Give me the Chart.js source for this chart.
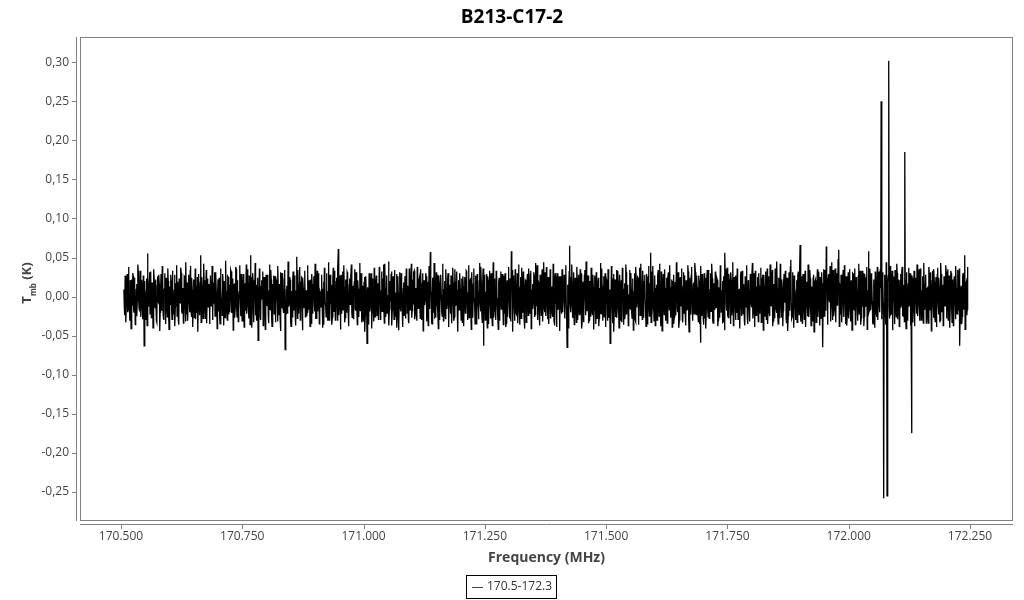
<!DOCTYPE html>
<html>
<head>
<meta charset="utf-8">
<title>B213-C17-2</title>
<script src="https://cdn.jsdelivr.net/npm/chart.js@4/dist/chart.umd.min.js"></script>
<style>
  html, body { margin: 0; padding: 0; background: #fff; }
  #spectrum { display: block; }
</style>
</head>
<body>
<canvas id="spectrum" width="1024" height="600"></canvas>
<script>
const chartTitle = "B213-C17-2";
const seriesLabel = "170.5-172.3";
const xTitle = "Frequency (MHz)";

// first channel and channel width, MHz
const freqStart = 170.506;
const chanWidth = 0.00087;

// T_mb per channel, in mK (2000 channels, 50 per row)
const tmb = [
  9,-14,-24,27,18,-33,-6,12,29,-20,-17,38,3,-9,-31,21,14,-41,22,6,-11,30,26,-17,-20,24,5,-36,-28,10,16,-25,-2,41,33,-5,-15,-19,8,33,-26,-12,21,16,-7,-29,27,3,-63,20,
  6,-21,-30,8,23,-37,55,26,17,-13,4,31,-22,-2,32,-27,-5,18,11,-40,-27,35,20,-10,-14,22,2,-31,-33,14,26,-6,-8,28,15,-44,-20,11,29,-18,-1,39,19,-24,-30,7,10,30,-16,-35,
  24,13,-5,-26,36,20,-23,-42,13,5,-10,28,21,-15,-29,33,7,-22,-18,9,28,-38,-12,17,1,40,-25,-11,19,-30,-36,23,15,-8,-4,37,30,-19,-21,2,11,-34,-14,26,25,-13,-32,44,5,-23,
  18,-31,-9,15,28,-4,-20,33,39,-18,-26,24,8,-39,-15,10,22,-27,-3,36,-29,12,14,-21,25,-45,-17,29,4,-7,-24,18,53,-33,-7,25,12,-16,-28,42,21,-1,-11,-28,1,34,-34,-10,23,20,
  -13,7,16,-35,-21,27,27,-12,-8,39,-30,-22,18,-9,9,31,-25,-17,31,3,-14,-41,5,22,-19,15,24,-28,-35,36,12,-6,-2,-24,29,19,-16,-37,20,11,-27,46,7,-14,-10,-30,26,25,-23,-3,
  15,-20,-4,34,32,-8,-21,23,10,-43,-29,16,17,-27,-12,38,35,-12,-26,21,6,-32,-17,6,23,40,-8,-25,29,13,-31,-18,13,29,-22,-39,2,17,-18,-5,41,-22,-11,35,20,-11,-28,27,9,-36,
  53,11,25,-40,-15,30,21,-20,-33,8,5,43,-24,-16,15,-31,-9,24,-56,-9,-19,36,11,-27,-30,14,21,-3,-2,32,-37,-23,25,19,-13,-42,18,28,-7,-12,28,6,-23,-34,8,41,-16,-17,34,22,
  -27,-38,12,16,-3,27,-22,-10,26,-33,-11,21,19,-5,-32,39,5,-24,16,12,-26,-44,31,18,-15,30,9,-15,-21,-6,23,34,-68,-29,-29,9,14,-21,-18,45,30,-13,-8,25,21,-32,-38,7,3,-26,
  22,32,-12,-18,27,5,-25,-37,7,24,51,-28,34,15,-22,-7,12,38,-30,-20,18,26,-4,-43,24,11,-14,-14,31,33,-26,-3,8,-25,-20,40,29,-16,-10,21,-1,-38,22,8,-34,29,16,-22,-8,12,
  26,-9,-19,42,13,-28,-28,14,33,-19,-6,30,19,-35,-24,6,4,-13,28,25,-15,-40,10,19,-36,37,20,-8,-12,-26,30,15,-22,-31,6,44,-30,-17,23,28,-9,-5,15,-36,-26,22,37,-11,-19,33,
  11,-30,-2,19,24,-11,-31,36,61,-24,-13,9,27,-42,-7,28,-22,13,32,-17,-17,40,12,-33,-27,4,22,-20,-5,31,29,-12,-34,-38,15,23,-10,-6,26,41,-21,-27,2,14,-29,-2,19,35,-15,-18,
  31,24,-8,-36,21,10,-26,-22,5,43,-18,-15,30,28,-33,-8,14,-31,-5,19,25,-45,-23,26,9,-4,-60,12,-16,-35,-28,30,18,-19,-11,8,30,-41,-20,23,7,-13,-32,37,22,-26,-3,16,27,-7,
  -24,17,15,-29,-12,38,28,-6,-30,-23,8,32,-19,-14,23,41,-9,-34,42,11,-26,-20,12,27,-21,-9,2,45,-37,-16,20,-3,-6,29,32,-37,-16,21,26,-11,-29,34,11,-25,-1,5,29,-40,-22,26,
  5,-43,-15,22,31,-12,-19,30,16,-7,-33,-39,10,18,-24,9,26,-28,-12,36,21,-21,-5,14,-30,-34,36,25,-17,-2,14,42,-27,-18,22,-6,-8,31,33,-29,-22,11,4,-23,-31,38,19,-15,-10,20,
  24,-8,-28,35,9,-30,-16,17,30,-44,-23,21,16,-11,-3,30,26,-25,-32,6,19,-37,-11,39,28,-16,57,22,6,-33,-35,13,24,-20,-14,43,17,-27,-26,5,31,-12,-7,28,-19,-41,27,18,-30,-3,
  12,28,2,-19,-25,42,34,-31,-13,9,20,-24,-29,35,9,-16,-8,22,30,-39,-34,12,15,-7,-22,27,26,-34,-4,37,18,-13,-31,-26,35,19,-12,-8,22,32,-24,-45,8,21,-17,-14,30,10,-11,-30,
  23,-12,-33,26,13,-38,-6,15,25,-21,-20,33,32,-4,-15,-30,5,40,-27,-17,22,24,-9,-42,31,9,-26,-27,16,36,-2,-11,-35,18,27,-35,-19,29,10,-6,-29,-23,20,43,-8,-19,38,14,-23,-33,
  16,36,-63,-25,28,8,-30,-14,6,29,-19,-40,26,21,-35,-9,17,33,-7,-28,30,5,-21,-37,11,44,-27,-18,23,13,-14,-30,33,27,-5,-2,-24,-42,19,24,-31,-16,12,32,-16,-7,29,20,-9,-36,
  27,-15,-22,30,9,-39,-34,11,21,-26,-1,38,27,-8,-28,23,15,-32,58,16,34,-45,-10,27,22,-12,-31,35,5,-21,-23,4,30,-34,-13,41,19,-19,-36,12,25,-28,-8,37,-20,-10,32,25,-27,-41,
  7,21,20,-33,-16,14,29,-5,-24,36,10,-22,-12,29,33,-41,-30,9,16,-16,-5,31,27,-26,-23,20,43,-10,-11,40,-27,-30,19,17,-20,-37,28,6,-3,-24,23,35,-32,-13,12,44,-15,-20,31,11,
  -25,38,5,-12,-29,25,24,-35,-9,16,35,-28,-21,7,13,-19,-26,42,18,-31,-37,22,30,-9,-6,-39,21,30,-17,-14,8,26,-31,-44,26,13,-14,-22,35,33,-20,-4,2,28,-28,-17,22,40,-12,-29,
  -65,15,-19,-40,14,32,65,-7,25,-20,-7,41,20,-26,-27,11,31,-36,-13,24,9,-15,-33,38,23,-30,-16,8,28,-23,-4,35,-22,-10,30,-41,-29,19,16,-33,-10,27,34,-6,-24,45,7,-18,-18,24,
  27,-34,-30,12,20,-25,-9,37,32,-17,-23,28,12,-42,-17,20,27,-8,-35,31,18,-28,-2,16,24,-38,-28,5,11,43,-21,-22,36,14,-15,-31,5,26,-26,-11,30,-39,-11,22,19,-16,-31,35,23,-27,
  -5,9,-60,-31,-22,39,15,-18,-34,23,29,-45,-13,16,22,-26,-6,34,-27,-13,33,20,-16,-40,8,28,-30,-5,21,-33,-9,37,27,-19,-36,10,17,-29,-20,41,31,-23,-8,15,13,-37,-25,3,34,-12,
  -16,30,10,-21,-28,17,23,-43,-12,6,30,-29,-32,38,19,-14,-5,25,24,-36,-18,11,37,-24,-23,42,12,-9,-29,33,20,-27,-7,19,28,-5,-21,-38,14,29,-35,-16,26,39,-11,-25,17,13,56,-33,
  32,-26,-14,39,6,-13,-31,21,27,-37,-19,10,15,-30,-9,27,34,-6,-25,42,21,-19,-38,32,16,-44,-5,18,29,-11,-23,35,11,-27,-31,7,24,-34,-12,23,31,-3,-17,40,4,-21,-27,12,22,-39,
  -8,20,28,-35,-26,9,19,-24,-16,44,36,-15,-20,31,8,-40,-30,17,25,-8,-12,36,17,-29,-33,13,31,-21,-3,27,-24,-37,21,6,-17,-16,40,32,-29,-45,13,24,-22,-10,27,38,-7,-28,-31,15,
  18,-22,-10,43,31,-17,-23,27,12,-3,-19,-32,27,20,-35,-11,-59,39,-9,-25,29,14,-21,-36,6,30,-28,-7,24,-41,-14,23,34,-15,-26,34,9,-28,-20,9,30,-19,-5,42,23,-31,-34,17,15,-6,
  -17,31,32,-14,-13,24,21,-38,-30,12,5,-27,-23,40,28,-20,-11,8,20,-33,-32,26,13,-43,56,15,35,-10,-18,37,10,-24,-27,29,22,-4,-6,-35,31,21,-24,-17,17,44,-37,-26,25,11,-9,-30,
  27,-18,-21,36,17,-29,-29,5,10,-41,-15,27,32,-12,-25,33,22,-22,-2,16,-31,-37,26,9,-13,40,20,-27,-35,21,14,-8,-20,-32,29,25,-9,-14,24,43,-28,-21,6,30,-18,-39,33,19,-24,-5,
  13,25,-7,-32,30,11,-22,-21,13,37,-33,-16,24,28,-16,-43,28,14,-10,-25,19,32,-29,-6,36,-35,-20,26,7,-19,-25,41,23,-11,-12,23,34,-38,-31,7,16,-27,-5,36,27,-15,-21,45,11,-24,
  -35,10,24,-27,-15,42,31,-13,-27,22,9,-38,-18,17,29,-5,-8,33,22,-29,-34,24,15,-44,-24,12,31,-18,-13,38,47,-9,-28,-26,19,31,-17,-40,27,16,-6,-22,-30,8,21,-33,-11,27,32,-12,
  -23,37,66,-20,-32,6,26,-34,-19,29,6,-11,-29,23,33,-39,-14,19,17,-7,-25,41,30,-26,-10,34,23,-16,-37,9,13,-31,-21,24,28,-45,-4,18,21,-2,-33,-29,11,35,-26,-14,32,21,-16,-37,
  25,-10,-28,31,17,-41,-65,16,35,-25,-22,34,10,-18,64,12,24,-36,-17,27,29,-4,-7,39,-32,-22,21,44,-15,-30,34,8,-25,-17,10,36,-20,-33,30,20,-11,-9,48,27,60,-38,15,13,-23,28,
  27,-33,-9,18,34,-22,-26,40,19,-8,-35,26,12,-37,-21,11,31,-28,-13,35,25,-15,-32,21,7,-43,-24,30,29,-12,-17,17,36,-36,-29,25,14,-5,-10,-31,26,42,-22,-19,33,9,-36,-27,18,33,
  -13,19,30,-38,-25,29,21,-13,-11,24,38,-42,-31,8,58,-21,-18,36,28,-17,-8,30,23,-6,-34,-35,13,22,-27,-40,32,14,-20,-26,9,38,-30,-11,25,32,-15,-20,35,11,250,-27,-29,31,17,-8,
  -258,-15,26,28,-24,-36,44,13,-255,-31,19,27,302,-11,-28,39,14,-23,-22,16,33,-43,-12,25,24,-7,-35,34,10,-19,-26,42,30,-29,-16,10,22,-38,-33,21,29,-14,-10,33,38,-24,-25,6,15,-32,
  185,22,-19,-41,31,15,-30,-26,17,37,-13,-9,27,30,-37,-19,-175,27,23,-33,-18,12,33,-38,-28,24,12,-5,-22,41,30,-25,-9,18,35,-14,-31,36,20,-30,-15,8,26,-21,-34,43,16,-17,-7,26,
  28,-34,-24,11,13,-23,-34,38,30,-16,-17,31,22,-44,-10,20,33,-9,-27,35,18,-26,-32,15,25,-39,-14,28,37,-12,-23,24,10,-33,-30,43,29,-20,-19,7,15,-37,-36,26,24,-11,-12,40,32,-28,
  -21,14,35,-30,-26,27,17,-40,-8,33,30,-15,-33,21,22,-37,-14,25,26,-6,-29,39,11,-22,-22,31,34,-13,-18,36,-63,-28,-31,9,14,-35,-25,23,30,-17,-10,30,53,-42,-27,16,19,-24,-16,38
];

const xTicks = [170.5, 170.75, 171.0, 171.25, 171.5, 171.75, 172.0, 172.25];
const yTicks = [-0.25, -0.2, -0.15, -0.1, -0.05, 0, 0.05, 0.1, 0.15, 0.2, 0.25, 0.3];
const xRange = [170.4176, 172.3365];
const yRange = [-0.286, 0.331];

Chart.defaults.font.family = "'Open Sans', sans-serif";
Chart.defaults.color = "#444";

const points = tmb.map((v, i) => ({ x: freqStart + i * chanWidth, y: v / 1000 }));

// frame, offset axis lines, titles and boxed legend
const decorations = {
    id: "decorations",
    afterDraw(chart) {
        const { ctx, chartArea: a, scales } = chart;
        ctx.save();
        ctx.strokeStyle = "#808080";
        ctx.lineWidth = 1;
        ctx.strokeRect(a.left - 0.5, a.top - 0.5, a.right - a.left + 1, a.bottom - a.top + 1);

        ctx.beginPath();
        ctx.moveTo(76.5, a.top - 1);
        ctx.lineTo(76.5, a.bottom + 1);
        ctx.moveTo(a.left - 1, a.bottom + 4.5);
        ctx.lineTo(a.right + 1, a.bottom + 4.5);
        yTicks.forEach(v => {
            const py = Math.round(scales.y.getPixelForValue(v)) + 0.5;
            ctx.moveTo(72, py);
            ctx.lineTo(76.5, py);
        });
        xTicks.forEach(v => {
            const px = Math.round(scales.x.getPixelForValue(v)) + 0.5;
            ctx.moveTo(px, a.bottom + 4.5);
            ctx.lineTo(px, a.bottom + 9);
        });
        ctx.stroke();

        ctx.fillStyle = "#000";
        ctx.textAlign = "center";
        ctx.textBaseline = "alphabetic";
        ctx.font = "bold 19px 'Open Sans'";
        ctx.fillText(chartTitle, 512, 23);

        ctx.fillStyle = "#444";
        ctx.font = "bold 14px 'Open Sans'";
        ctx.fillText(xTitle, (a.left + a.right) / 2, 562);

        // rotated y title with subscript
        ctx.save();
        ctx.translate(31, 283);
        ctx.rotate(-Math.PI / 2);
        ctx.textAlign = "left";
        const big = "bold 13px 'Open Sans'";
        const small = "bold 8px 'Open Sans'";
        ctx.font = big;
        const wT = ctx.measureText("T").width;
        const wK = ctx.measureText(" (K)").width;
        ctx.font = small;
        const wS = ctx.measureText("mb").width;
        const x0 = -(wT + wS + wK) / 2;
        ctx.font = big;
        ctx.fillText("T", x0, 0);
        ctx.font = small;
        ctx.fillText("mb", x0 + wT, 5);
        ctx.font = big;
        ctx.fillText(" (K)", x0 + wT + wS, 0);
        ctx.restore();

        // legend
        ctx.strokeStyle = "#000";
        ctx.strokeRect(466.5, 575.5, 90, 23);
        ctx.strokeStyle = "#444";
        ctx.beginPath();
        ctx.moveTo(472, 587.5);
        ctx.lineTo(483, 587.5);
        ctx.stroke();
        ctx.fillStyle = "#333";
        ctx.font = "12px 'Open Sans'";
        ctx.textAlign = "left";
        ctx.textBaseline = "middle";
        ctx.fillText(seriesLabel, 487, 587);
        ctx.restore();
    }
};

new Chart(document.getElementById("spectrum"), {
    type: "line",
    data: {
        datasets: [{
            label: seriesLabel,
            data: points,
            borderColor: "#000",
            borderWidth: 1.3,
            pointRadius: 0,
            tension: 0
        }]
    },
    options: {
        responsive: false,
        animation: false,
        parsing: false,
        normalized: true,
        layout: {
            padding: { top: 38, right: 12, bottom: 30, left: 0 }
        },
        scales: {
            x: {
                type: "linear",
                min: xRange[0],
                max: xRange[1],
                grid: { display: false, drawTicks: false },
                border: { display: false },
                afterBuildTicks: scale => { scale.ticks = xTicks.map(v => ({ value: v })); },
                afterFit: scale => { scale.height = 50; },
                ticks: {
                    padding: 9,
                    maxRotation: 0,
                    autoSkip: false,
                    font: { size: 12 },
                    callback: v => v.toFixed(3)
                }
            },
            y: {
                type: "linear",
                min: yRange[0],
                max: yRange[1],
                grid: { display: false, drawTicks: false },
                border: { display: false },
                afterBuildTicks: scale => { scale.ticks = yTicks.map(v => ({ value: v })); },
                afterFit: scale => { scale.width = 81; },
                ticks: {
                    padding: 12,
                    autoSkip: false,
                    font: { size: 12 },
                    callback: v => v.toFixed(2).replace(".", ",")
                }
            }
        },
        plugins: {
            legend: { display: false },
            title: { display: false },
            tooltip: { enabled: false }
        }
    },
    plugins: [decorations]
});
</script>
</body>
</html>
